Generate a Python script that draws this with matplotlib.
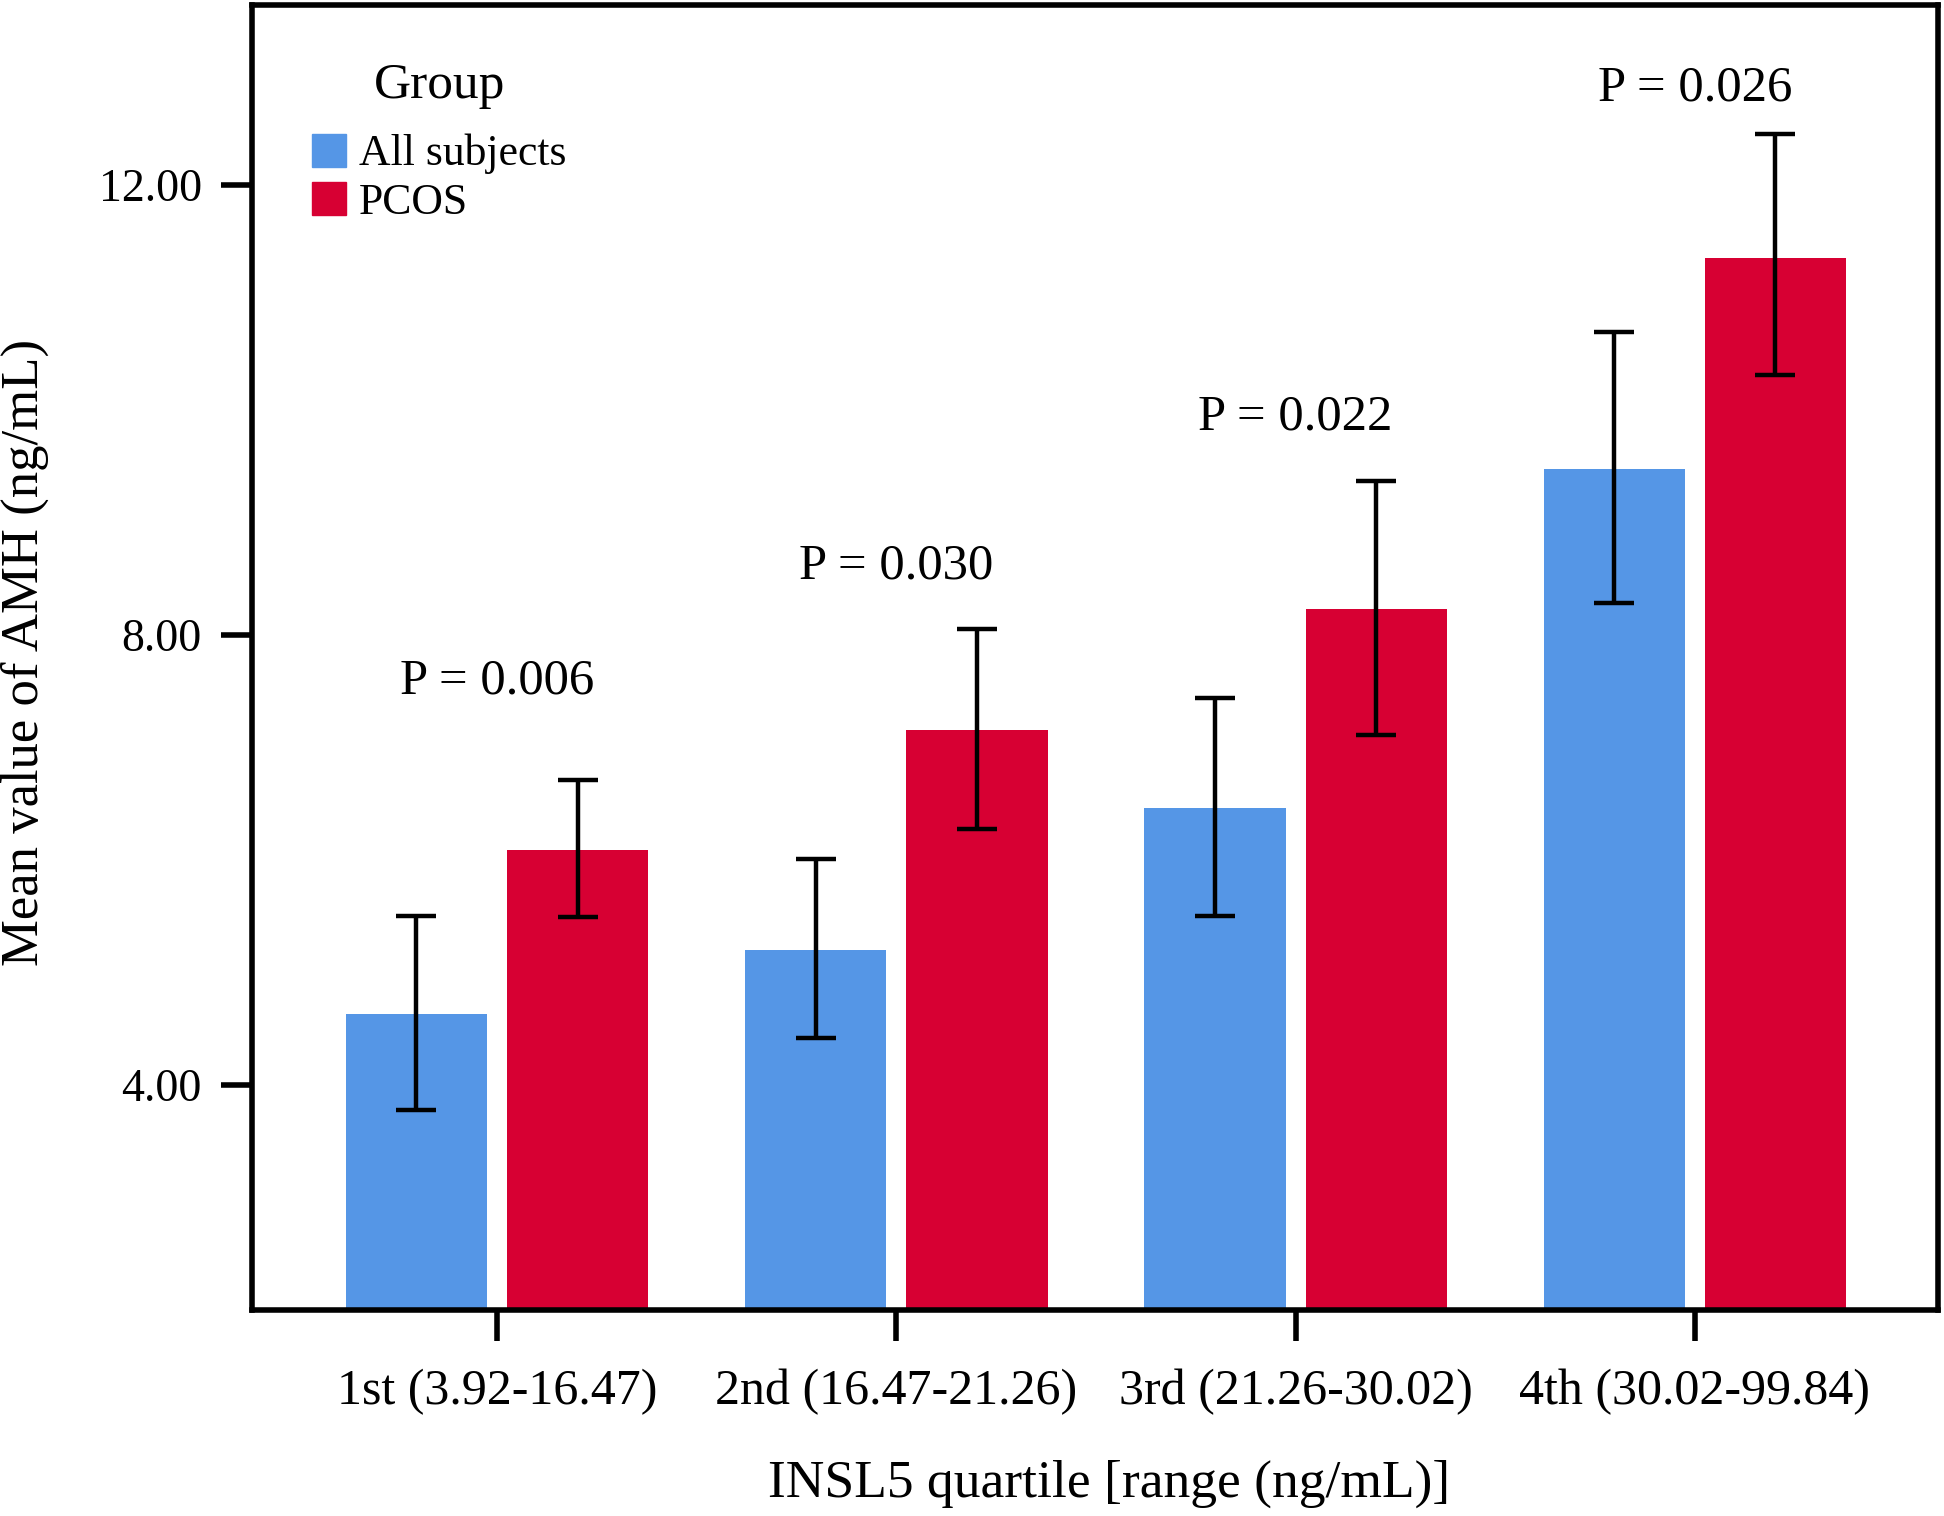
import numpy as np
import matplotlib
matplotlib.use("Agg")
import matplotlib.pyplot as plt
from matplotlib.patches import Patch

plt.rcParams['font.family'] = ['Liberation Serif', 'DejaVu Serif']

# Data
quartiles = ['1st (3.92-16.47)', '2nd (16.47-21.26)', '3rd (21.26-30.02)', '4th (30.02-99.84)']
all_mean = [4.63, 5.20, 6.46, 9.47]
all_hi = [5.50, 6.01, 7.44, 10.69]
all_lo = [3.78, 4.42, 5.50, 8.28]
pcos_mean = [6.09, 7.15, 8.23, 11.35]
pcos_hi = [6.71, 8.05, 9.37, 12.45]
pcos_lo = [5.49, 6.27, 7.11, 10.31]
p_values = ['P = 0.006', 'P = 0.030', 'P = 0.022', 'P = 0.026']

blue = '#5596E6'
red = '#D70033'

fig = plt.figure(figsize=(19.44, 15.16), dpi=100)
ax = fig.add_axes([0.1296, 0.136, 0.8675, 0.861])

x = np.arange(len(quartiles))
w = 0.354
off = w / 2 + 0.025

def draw(xs, mean, lo, hi, color):
    mean = np.array(mean)
    yerr = np.vstack([mean - np.array(lo), np.array(hi) - mean])
    ax.bar(xs, mean, width=w, color=color, zorder=2)
    ax.errorbar(xs, mean, yerr=yerr, fmt='none', ecolor='black',
                elinewidth=3.2, capsize=14.5, capthick=3.2, zorder=3)

draw(x - off, all_mean, all_lo, all_hi, blue)
draw(x + off, pcos_mean, pcos_lo, pcos_hi, red)

# p-value labels above each quartile
p_y = [7.59, 8.61, 9.93, 12.86]
for xi, yi, txt in zip(x, p_y, p_values):
    ax.text(xi, yi, txt, ha='center', va='center', fontsize=36.5)

ax.set_xlim(-0.614, 3.61)
ax.set_ylim(2.0, 13.6)
ax.set_yticks([4, 8, 12])
ax.set_yticklabels(['4.00', '8.00', '12.00'])
ax.set_xticks(x)
ax.set_xticklabels(quartiles)

for s in ax.spines.values():
    s.set_linewidth(4)
ax.tick_params(axis='x', direction='out', length=22, width=4, labelsize=36, pad=20)
ax.tick_params(axis='y', direction='out', length=22, width=4, labelsize=33, pad=14)

ax.set_xlabel('INSL5 quartile [range (ng/mL)]', fontsize=38.5, va='center')
ax.xaxis.set_label_coords(0.508, -0.133)
ax.set_ylabel('Mean value of AMH (ng/mL)', fontsize=38, va='center')
ax.yaxis.set_label_coords(-0.1346, 0.504)

# legend: title drawn as its own text so the gap matches
ax.text(0.111, 0.9375, 'Group', transform=ax.transAxes, ha='center', va='center',
        fontsize=37)
handles = [Patch(color=blue, label='All subjects'), Patch(color=red, label='PCOS')]
ax.legend(handles=handles, loc='upper left', bbox_to_anchor=(0.0356, 0.901),
          frameon=False, fontsize=31.5, handlelength=0.78, handleheight=0.78,
          handletextpad=0.3, labelspacing=0.18, borderpad=0, borderaxespad=0)

fig.savefig('out.png', dpi=100)
